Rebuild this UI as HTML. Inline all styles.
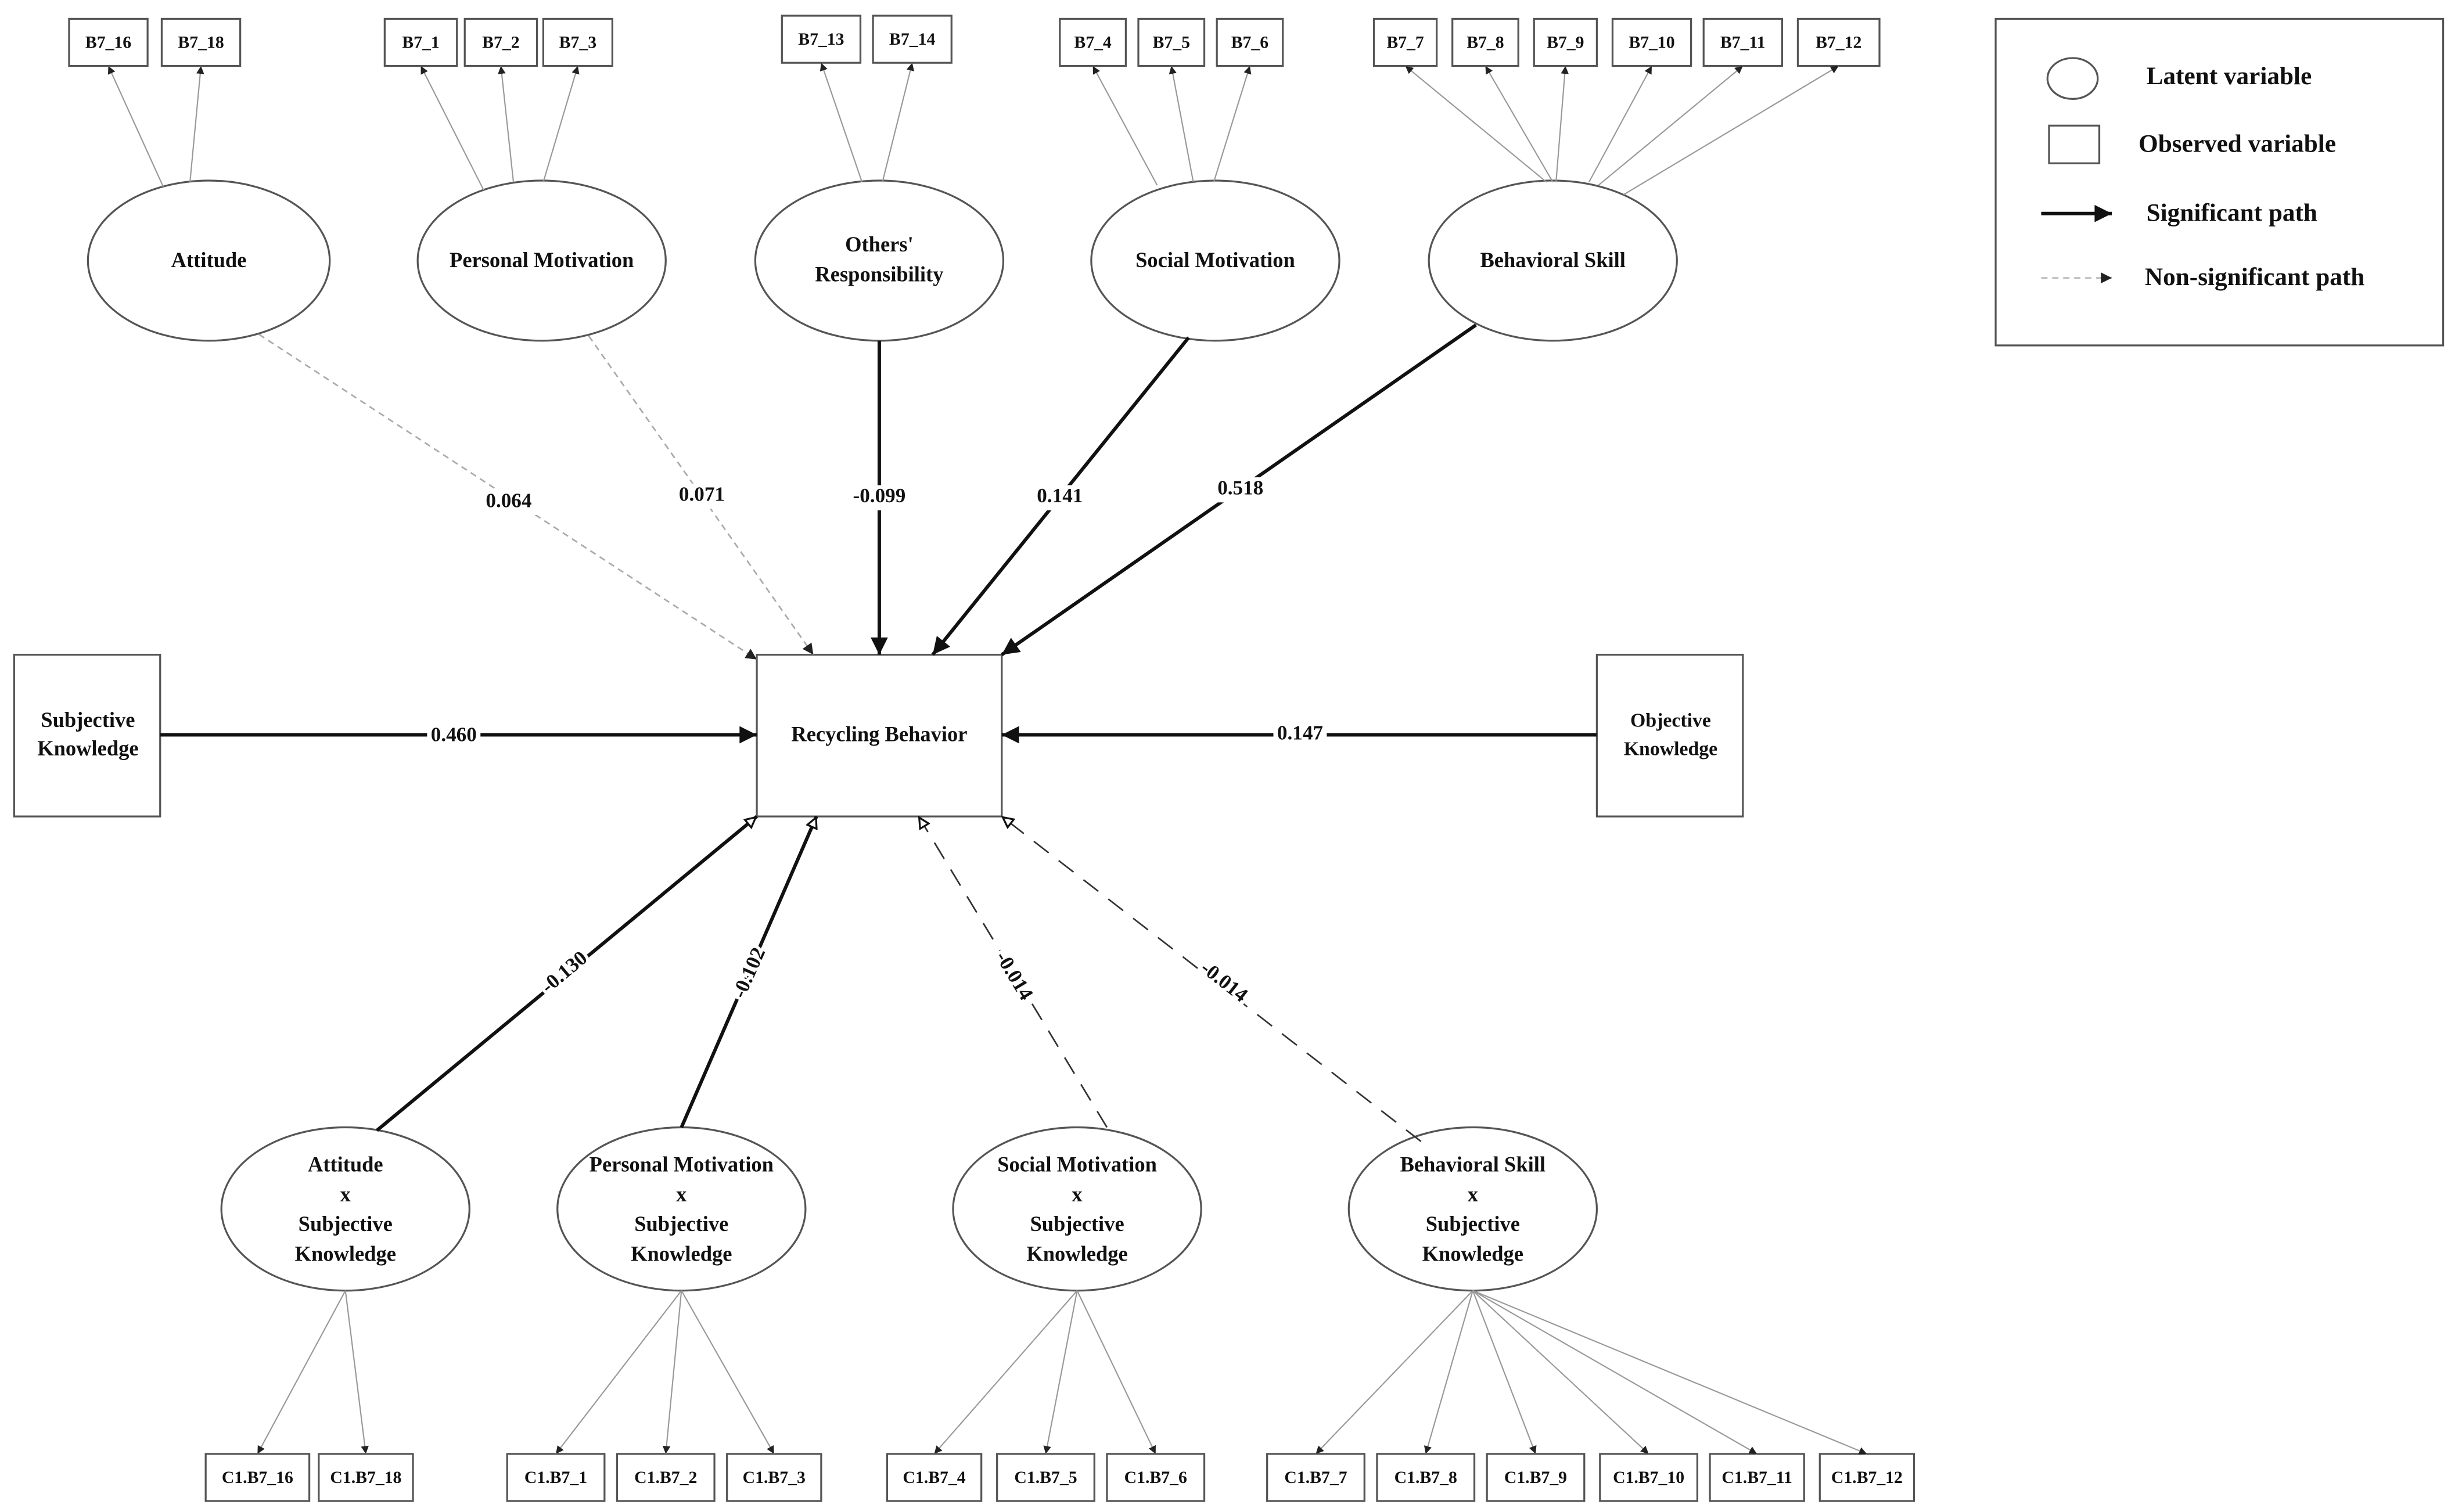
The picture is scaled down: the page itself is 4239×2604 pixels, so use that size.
<!DOCTYPE html>
<html><head><meta charset="utf-8"><style>
html,body{margin:0;padding:0;background:#fff;}
svg{display:block;}
text{font-family:"Liberation Serif",serif;font-weight:bold;fill:#111;text-anchor:middle;dominant-baseline:middle;}
.lv text{font-size:13.5px;}
.ob text{font-size:11px;}
.lb text{font-size:13px;}
.lg text{font-size:16px;text-anchor:start;}
</style></head><body>
<svg width="4239" height="2604" viewBox="0 0 1568 963" preserveAspectRatio="none" xmlns="http://www.w3.org/2000/svg">
<defs>
<marker id="sm" viewBox="0 0 10 10" refX="10" refY="5" markerWidth="5" markerHeight="5" orient="auto" markerUnits="userSpaceOnUse"><path d="M0,0L10,5L0,10z" fill="#222"/></marker>
<marker id="bg" viewBox="0 0 10 10" refX="10" refY="5" markerWidth="13" markerHeight="11" orient="auto" markerUnits="userSpaceOnUse"><path d="M0,0L10,5L0,10z" fill="#111"/></marker>
<marker id="ds" viewBox="0 0 10 10" refX="10" refY="5" markerWidth="8" markerHeight="7" orient="auto" markerUnits="userSpaceOnUse"><path d="M0,0L10,5L0,10z" fill="#222"/></marker>
<marker id="op" viewBox="0 0 10 10" refX="10" refY="5" markerWidth="10" markerHeight="8" orient="auto" markerUnits="userSpaceOnUse"><path d="M1,1L9,5L1,9z" fill="#fff" stroke="#111" stroke-width="1.5"/></marker>
</defs>
<g fill="#fff" stroke="#555" stroke-width="1.2">
<rect x="44" y="12" width="50" height="30"/><rect x="103" y="12" width="50" height="30"/>
<rect x="245" y="12" width="46" height="30"/><rect x="296" y="12" width="46" height="30"/><rect x="346" y="12" width="44" height="30"/>
<rect x="498" y="10" width="50" height="30"/><rect x="556" y="10" width="50" height="30"/>
<rect x="675" y="12" width="42" height="30"/><rect x="725" y="12" width="42" height="30"/><rect x="775" y="12" width="42" height="30"/>
<rect x="875" y="12" width="40" height="30"/><rect x="925" y="12" width="42" height="30"/><rect x="977" y="12" width="40" height="30"/><rect x="1027" y="12" width="50" height="30"/><rect x="1085" y="12" width="50" height="30"/><rect x="1145" y="12" width="52" height="30"/>
<rect x="131" y="926" width="66" height="30"/><rect x="203" y="926" width="60" height="30"/>
<rect x="323" y="926" width="62" height="30"/><rect x="393" y="926" width="62" height="30"/><rect x="463" y="926" width="60" height="30"/>
<rect x="565" y="926" width="60" height="30"/><rect x="635" y="926" width="62" height="30"/><rect x="705" y="926" width="62" height="30"/>
<rect x="807" y="926" width="62" height="30"/><rect x="877" y="926" width="62" height="30"/><rect x="947" y="926" width="62" height="30"/><rect x="1019" y="926" width="62" height="30"/><rect x="1089" y="926" width="60" height="30"/><rect x="1159" y="926" width="60" height="30"/>
<rect x="482" y="417" width="156" height="103"/>
<rect x="9" y="417" width="93" height="103"/>
<rect x="1017" y="417" width="93" height="103"/>
<rect x="1271" y="12" width="285" height="208"/>
<ellipse cx="133" cy="166" rx="77" ry="51"/><ellipse cx="345" cy="166" rx="79" ry="51"/><ellipse cx="560" cy="166" rx="79" ry="51"/><ellipse cx="774" cy="166" rx="79" ry="51"/><ellipse cx="989" cy="166" rx="79" ry="51"/>
<ellipse cx="220" cy="770" rx="79" ry="52"/><ellipse cx="434" cy="770" rx="79" ry="52"/><ellipse cx="686" cy="770" rx="79" ry="52"/><ellipse cx="938" cy="770" rx="79" ry="52"/>
<ellipse cx="1320" cy="50" rx="16" ry="13"/><rect x="1305" y="80" width="32" height="24"/>
</g>
<g stroke="#999" stroke-width="0.8" marker-end="url(#sm)">
<line x1="104" y1="119" x2="69" y2="42"/><line x1="121" y1="116" x2="128" y2="42"/>
<line x1="308" y1="121" x2="268" y2="42"/><line x1="327" y1="116" x2="319" y2="42"/><line x1="346" y1="116" x2="368" y2="42"/>
<line x1="549" y1="116" x2="523" y2="40"/><line x1="562" y1="116" x2="581" y2="40"/>
<line x1="737" y1="118" x2="696" y2="42"/><line x1="760" y1="116" x2="746" y2="42"/><line x1="773" y1="116" x2="796" y2="42"/>
<line x1="985" y1="116" x2="895" y2="42"/><line x1="989" y1="116" x2="946" y2="42"/><line x1="991" y1="116" x2="997" y2="42"/><line x1="1012" y1="116" x2="1052" y2="42"/><line x1="1018" y1="118" x2="1110" y2="42"/><line x1="1034" y1="124" x2="1171" y2="42"/>
</g>
<g stroke="#999" stroke-width="0.8" marker-end="url(#sm)">
<line x1="220" y1="822" x2="164" y2="926"/><line x1="220" y1="822" x2="233" y2="926"/>
<line x1="434" y1="822" x2="354" y2="926"/><line x1="434" y1="822" x2="424" y2="926"/><line x1="434" y1="822" x2="493" y2="926"/>
<line x1="686" y1="822" x2="595" y2="926"/><line x1="686" y1="822" x2="666" y2="926"/><line x1="686" y1="822" x2="736" y2="926"/>
<line x1="938" y1="822" x2="838" y2="926"/><line x1="938" y1="822" x2="908" y2="926"/><line x1="938" y1="822" x2="978" y2="926"/><line x1="938" y1="822" x2="1050" y2="926"/><line x1="938" y1="822" x2="1119" y2="926"/><line x1="938" y1="822" x2="1189" y2="926"/>
</g>
<g stroke="#aaa" stroke-width="1" stroke-dasharray="4,3" marker-end="url(#ds)">
<line x1="165" y1="213" x2="482" y2="420"/><line x1="375" y1="214" x2="518" y2="417"/>
</g>
<g stroke="#111" stroke-width="2.2" marker-end="url(#bg)">
<line x1="560" y1="217" x2="560" y2="417"/><line x1="757" y1="215" x2="594" y2="417"/><line x1="940" y1="207" x2="638" y2="417"/>
<line x1="102" y1="468" x2="482" y2="468"/><line x1="1017" y1="468" x2="638" y2="468"/>
<line x1="240" y1="720" x2="482" y2="520" marker-end="url(#op)"/><line x1="434" y1="718" x2="520" y2="520" marker-end="url(#op)"/>
</g>
<g stroke="#333" stroke-width="1" stroke-dasharray="12,8" marker-end="url(#op)">
<line x1="705" y1="718" x2="585" y2="520"/><line x1="905" y1="727" x2="638" y2="520"/>
</g>
<line x1="1300" y1="136" x2="1345" y2="136" stroke="#111" stroke-width="2.2" marker-end="url(#bg)"/>
<line x1="1300" y1="177" x2="1345" y2="177" stroke="#bbb" stroke-width="1" stroke-dasharray="4,3" marker-end="url(#ds)"/>
<g fill="#fff">
<rect x="306" y="312" width="36" height="16"/><rect x="430" y="308" width="34" height="16"/><rect x="540" y="309" width="40" height="16"/><rect x="658" y="309" width="34" height="16"/><rect x="773" y="304" width="34" height="16"/>
<rect x="272" y="461" width="34" height="16"/><rect x="811" y="460" width="34" height="16"/>
</g>
<g class="lb">
<text x="324" y="320">0.064</text><text x="447" y="316">0.071</text><text x="560" y="317">-0.099</text><text x="675" y="317">0.141</text><text x="790" y="312">0.518</text>
<text x="289" y="469">0.460</text><text x="828" y="468">0.147</text>
<text x="360" y="620" transform="rotate(-40 360 620)" style="paint-order:stroke" stroke="#fff" stroke-width="4">-0.130</text>
<text x="478" y="620" transform="rotate(-66 478 620)" style="paint-order:stroke" stroke="#fff" stroke-width="4">-0.102</text>
<text x="645" y="622" transform="rotate(59 645 622)" style="paint-order:stroke" stroke="#fff" stroke-width="4">-0.014</text>
<text x="779" y="626" transform="rotate(38 779 626)" style="paint-order:stroke" stroke="#fff" stroke-width="4">-0.014</text>
</g>
<g class="ob">
<text x="69" y="28">B7_16</text><text x="128" y="28">B7_18</text>
<text x="268" y="28">B7_1</text><text x="319" y="28">B7_2</text><text x="368" y="28">B7_3</text>
<text x="523" y="26">B7_13</text><text x="581" y="26">B7_14</text>
<text x="696" y="28">B7_4</text><text x="746" y="28">B7_5</text><text x="796" y="28">B7_6</text>
<text x="895" y="28">B7_7</text><text x="946" y="28">B7_8</text><text x="997" y="28">B7_9</text><text x="1052" y="28">B7_10</text><text x="1110" y="28">B7_11</text><text x="1171" y="28">B7_12</text>
<text x="164" y="942">C1.B7_16</text><text x="233" y="942">C1.B7_18</text>
<text x="354" y="942">C1.B7_1</text><text x="424" y="942">C1.B7_2</text><text x="493" y="942">C1.B7_3</text>
<text x="595" y="942">C1.B7_4</text><text x="666" y="942">C1.B7_5</text><text x="736" y="942">C1.B7_6</text>
<text x="838" y="942">C1.B7_7</text><text x="908" y="942">C1.B7_8</text><text x="978" y="942">C1.B7_9</text><text x="1050" y="942">C1.B7_10</text><text x="1119" y="942">C1.B7_11</text><text x="1189" y="942">C1.B7_12</text>
</g>
<g class="lv">
<text x="133" y="167">Attitude</text><text x="345" y="167">Personal Motivation</text>
<text x="560" y="157">Others'</text><text x="560" y="176">Responsibility</text>
<text x="774" y="167">Social Motivation</text><text x="989" y="167">Behavioral Skill</text>
<text x="560" y="469">Recycling Behavior</text>
<text x="56" y="460">Subjective</text><text x="56" y="478">Knowledge</text>
<text x="1064" y="460" style="font-size:12.5px">Objective</text><text x="1064" y="478" style="font-size:12.5px">Knowledge</text>
<text x="220" y="743">Attitude</text><text x="220" y="762">x</text><text x="220" y="781">Subjective</text><text x="220" y="800">Knowledge</text>
<text x="434" y="743">Personal Motivation</text><text x="434" y="762">x</text><text x="434" y="781">Subjective</text><text x="434" y="800">Knowledge</text>
<text x="686" y="743">Social Motivation</text><text x="686" y="762">x</text><text x="686" y="781">Subjective</text><text x="686" y="800">Knowledge</text>
<text x="938" y="743">Behavioral Skill</text><text x="938" y="762">x</text><text x="938" y="781">Subjective</text><text x="938" y="800">Knowledge</text>
</g>
<g class="lg">
<text x="1367" y="50">Latent variable</text><text x="1362" y="93">Observed  variable</text><text x="1367" y="137">Significant path</text><text x="1366" y="178">Non-significant path</text>
</g>
</svg>
</body></html>
